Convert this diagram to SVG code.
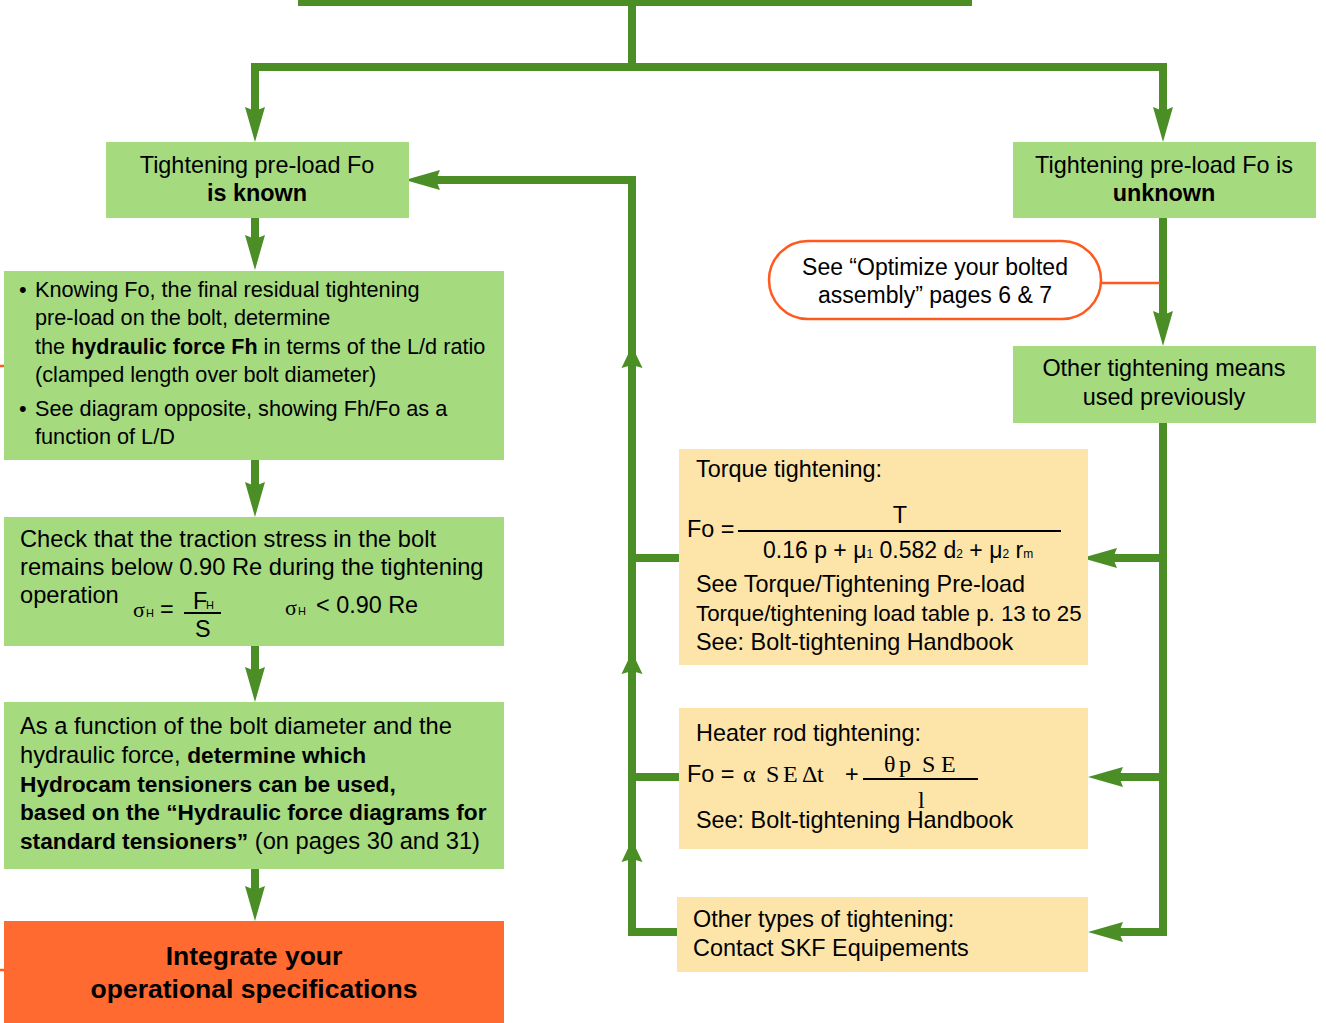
<svg xmlns="http://www.w3.org/2000/svg" width="1326" height="1023" viewBox="0 0 1326 1023">
<defs>
<style>
.g{fill:#a6da7f}
.y{fill:#fde5aa}
.o{fill:#ff6a30}
text{font-family:"Liberation Sans",Arial,sans-serif;font-size:23.4px;fill:#000}
.b{font-weight:bold}
.c{text-anchor:middle}
.s{font-family:"Liberation Serif","Times New Roman",serif}
.t3{font-size:21.7px}
.t3 .b{font-size:21.5px}
.t5{font-size:23.7px}
.t5b{font-size:22.7px;font-weight:bold}
.ln{fill:none;stroke:#4a8e25;stroke-width:8;stroke-linejoin:miter;stroke-linecap:butt}
.ah{marker-end:url(#big)}
.as{marker-end:url(#sm)}
.red{stroke:#ff5a1e;stroke-width:2.5;fill:none}
.fr{stroke:#000;stroke-width:2}
</style>
<marker id="big" markerUnits="userSpaceOnUse" markerWidth="40" markerHeight="24" refX="12" refY="0" orient="auto" overflow="visible"><path d="M35,0 L0,-10 L4,0 L0,10 Z" fill="#4a8e25"/></marker>
<marker id="sm" markerUnits="userSpaceOnUse" markerWidth="30" markerHeight="24" refX="9" refY="0" orient="auto" overflow="visible"><path d="M22,0 L0,-10.5 L3,0 L0,10.5 Z" fill="#4a8e25"/></marker>
</defs>
<rect width="1326" height="1023" fill="#fff"/>

<g id="connectors">
<path class="ln" d="M298,2 L972,2"/>
<path class="ln" d="M632,0 L632,67"/>
<path class="ln ah" d="M632,67 L255,67 L255,119"/>
<path class="ln ah" d="M632,67 L1163,67 L1163,119"/>
<path class="ln ah" d="M255,218 L255,247"/>
<path class="ln ah" d="M255,460 L255,494"/>
<path class="ln ah" d="M255,646 L255,679"/>
<path class="ln ah" d="M255,869 L255,898"/>
<path class="ln ah" d="M1163,218 L1163,323"/>
<path class="ln ah" d="M1163,423 L1163,932 L1111,932"/>
<path class="ln ah" d="M1163,558 L1105,558"/>
<path class="ln ah" d="M1163,777 L1111,777"/>
<path class="ln as" d="M677,932 L632,932 L632,853"/>
<path class="ln as" d="M632,853 L632,665"/>
<path class="ln as" d="M632,665 L632,359"/>
<path class="ln ah" d="M632,359 L632,180 L428,180"/>
<path class="ln" d="M679,558 L632,558"/>
<path class="ln" d="M679,777 L632,777"/>
<path class="red" d="M1101,283 L1160,283"/>
<path class="red" d="M0,366 L5,366"/>
<path class="red" d="M0,970 L5,970"/>
</g>

<g id="known">
<rect class="g" x="106" y="142" width="303" height="76"/>
<text class="c" x="257" y="173">Tightening pre-load Fo</text>
<text class="c b" x="257" y="201">is known</text>
</g>

<g id="unknown">
<rect class="g" x="1013" y="142" width="303" height="76"/>
<text class="c" x="1164" y="173">Tightening pre-load Fo is</text>
<text class="c b" x="1164" y="201">unknown</text>
</g>

<g id="optimize">
<rect x="769" y="241" width="332" height="78" rx="39" ry="39" fill="#fff" stroke="#ff5a1e" stroke-width="2.5"/>
<text class="c" x="935" y="275" style="font-size:23px">See “Optimize your bolted</text>
<text class="c" x="935" y="303" style="font-size:23px">assembly” pages 6 &amp; 7</text>
</g>

<g id="other-means">
<rect class="g" x="1013" y="346" width="303" height="77"/>
<text class="c" x="1164" y="376">Other tightening means</text>
<text class="c" x="1164" y="405">used previously</text>
</g>

<g id="hydraulic-force">
<rect class="g" x="4" y="271" width="500" height="189"/>
<text class="t3" x="19" y="297">•</text>
<text class="t3" x="35" y="297">Knowing Fo, the final residual tightening</text>
<text class="t3" x="35" y="325">pre-load on the bolt, determine</text>
<text class="t3" x="35" y="354">the <tspan class="b">hydraulic force Fh</tspan> in terms of the L/d ratio</text>
<text class="t3" x="35" y="382">(clamped length over bolt diameter)</text>
<text class="t3" x="19" y="416">•</text>
<text class="t3" x="35" y="416">See diagram opposite, showing Fh/Fo as a</text>
<text class="t3" x="35" y="444">function of L/D</text>
</g>

<g id="traction-check">
<rect class="g" x="4" y="517" width="500" height="129"/>
<text class="t5" x="20" y="547">Check that the traction stress in the bolt</text>
<text class="t5" x="20" y="575">remains below 0.90 Re during the tightening</text>
<text class="t5" x="20" y="603">operation</text>
<text class="s" x="133" y="617" style="font-size:22px">σ</text>
<text x="146" y="617" style="font-size:11px">H</text>
<text x="160" y="617">=</text>
<text x="193" y="609">F</text>
<text x="206" y="609" style="font-size:11px">H</text>
<line class="fr" x1="184" y1="613" x2="221" y2="613"/>
<text x="195" y="637">S</text>
<text class="s" x="285" y="615" style="font-size:22px">σ</text>
<text x="298" y="615" style="font-size:11px">H</text>
<text x="316" y="613">&lt; 0.90 Re</text>
</g>

<g id="tensioners">
<rect class="g" x="4" y="702" width="500" height="167"/>
<text class="t5" x="20" y="734">As a function of the bolt diameter and the</text>
<text class="t5" x="20" y="763">hydraulic force, <tspan class="t5b">determine which</tspan></text>
<text class="t5b" x="20" y="792">Hydrocam tensioners can be used,</text>
<text class="t5b" x="20" y="820">based on the “Hydraulic force diagrams for</text>
<text class="t5" x="20" y="849"><tspan class="t5b">standard tensioners”</tspan> (on pages 30 and 31)</text>
</g>

<g id="integrate">
<rect class="o" x="4" y="921" width="500" height="102"/>
<text class="c b" x="254" y="965" style="font-size:26.5px">Integrate your</text>
<text class="c b" x="254" y="998" style="font-size:26.5px">operational specifications</text>
</g>

<g id="torque">
<rect class="y" x="679" y="449" width="409" height="216"/>
<text x="696" y="477">Torque tightening:</text>
<text x="687" y="537">Fo =</text>
<text class="c" x="900" y="523">T</text>
<line class="fr" x1="738" y1="531" x2="1061" y2="531"/>
<text x="763" y="558" style="font-size:23px">0.16 p + μ<tspan style="font-size:12px">1</tspan> 0.582 d<tspan style="font-size:12px">2</tspan> + μ<tspan style="font-size:12px">2</tspan> r<tspan style="font-size:12px">m</tspan></text>
<text x="696" y="592">See Torque/Tightening Pre-load</text>
<text x="696" y="621" style="font-size:22.3px">Torque/tightening load table p. 13 to 25</text>
<text x="696" y="650">See: Bolt-tightening Handbook</text>
</g>

<g id="heater">
<rect class="y" x="679" y="708" width="409" height="141"/>
<text x="696" y="741">Heater rod tightening:</text>
<text x="687" y="782">Fo =</text>
<text class="s" x="743 766 783 802 817" y="782" style="font-size:24px">αSEΔt</text>
<text x="845" y="782">+</text>
<text class="s" x="884 899 922 941" y="772" style="font-size:24px">θpSE</text>
<line class="fr" x1="863" y1="779" x2="978" y2="779"/>
<text class="s" x="918" y="808" style="font-size:24px">l</text>
<text x="696" y="828">See: Bolt-tightening Handbook</text>
</g>

<g id="other-types">
<rect class="y" x="677" y="897" width="411" height="75"/>
<text x="693" y="927">Other types of tightening:</text>
<text x="693" y="956">Contact SKF Equipements</text>
</g>
</svg>
